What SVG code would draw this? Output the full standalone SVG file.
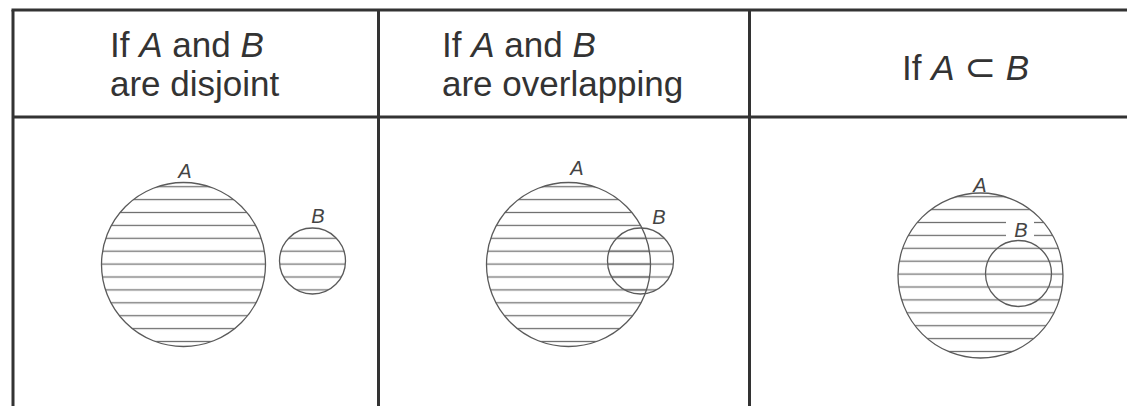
<svg xmlns="http://www.w3.org/2000/svg" width="1127" height="406" viewBox="0 0 1127 406">
<style>
.grid{stroke:#333;stroke-width:3;fill:none}
.head{font-family:"Liberation Sans",Arial,sans-serif;font-size:35px;fill:#333}
.lab{font-family:"Liberation Sans",Arial,sans-serif;font-size:20px;font-style:italic;fill:#444;text-anchor:middle}
.ring{fill:none;stroke:#5a5a5a;stroke-width:1.3}
.h1{fill:url(#hatch1)}
.h3{fill:url(#hatch3)}
</style>
<defs>
<pattern id="hatch1" patternUnits="userSpaceOnUse" x="0" y="180.25" width="20" height="12.9">
<line x1="0" y1="6.45" x2="20" y2="6.45" stroke="#707070" stroke-width="1.3"/>
</pattern>
<pattern id="hatch3" patternUnits="userSpaceOnUse" x="0" y="190.25" width="20" height="12.9">
<line x1="0" y1="6.45" x2="20" y2="6.45" stroke="#707070" stroke-width="1.3"/>
</pattern>
</defs>
<rect width="1127" height="406" fill="#fff"/>
<g id="table">
<line class="grid" x1="11.5" y1="10" x2="1127" y2="10"/>
<line class="grid" x1="13" y1="10" x2="13" y2="406"/>
<line class="grid" x1="378.5" y1="10" x2="378.5" y2="406"/>
<line class="grid" x1="749.5" y1="10" x2="749.5" y2="406"/>
<line class="grid" x1="13" y1="117" x2="1127" y2="117"/>
</g>
<g id="header-disjoint">
<text class="head" x="110" y="57">If <tspan font-style="italic">A</tspan> and <tspan font-style="italic">B</tspan></text>
<text class="head" x="110" y="96">are disjoint</text>
</g>
<g id="header-overlapping">
<text class="head" x="442" y="57">If <tspan font-style="italic">A</tspan> and <tspan font-style="italic">B</tspan></text>
<text class="head" x="442" y="96">are overlapping</text>
</g>
<g id="header-subset">
<text class="head" x="902" y="80">If <tspan font-style="italic">A</tspan> <tspan font-family="'DejaVu Sans',sans-serif" font-size="38">⊂</tspan> <tspan font-style="italic">B</tspan></text>
</g>
<g id="disjoint-A">
<circle class="h1" cx="183.5" cy="264.5" r="82"/>
<circle class="ring" cx="183.5" cy="264.5" r="82"/>
<text class="lab" x="185" y="178">A</text>
</g>
<g id="disjoint-B">
<circle class="h1" cx="312.5" cy="261" r="33"/>
<circle class="ring" cx="312.5" cy="261" r="33"/>
<text class="lab" x="318" y="223">B</text>
</g>
<g id="overlap-A">
<circle class="h1" cx="568.5" cy="264.5" r="82"/>
<text class="lab" x="577" y="175">A</text>
</g>
<g id="overlap-B">
<circle class="h1" cx="640.5" cy="261" r="33"/>
<circle class="ring" cx="640.5" cy="261" r="33"/>
<text class="lab" x="659" y="224">B</text>
</g>
<circle class="ring" cx="568.5" cy="264.5" r="82"/>
<g id="subset-A">
<circle class="h3" cx="980.5" cy="275.5" r="82.5"/>
<circle class="ring" cx="980.5" cy="275.5" r="82.5"/>
<text class="lab" x="980" y="192">A</text>
</g>
<g id="subset-B">
<circle class="ring" cx="1018.5" cy="273.5" r="33"/>
<rect x="1006" y="220" width="28" height="19" fill="#fff"/>
<text class="lab" x="1021" y="237">B</text>
</g>
</svg>
